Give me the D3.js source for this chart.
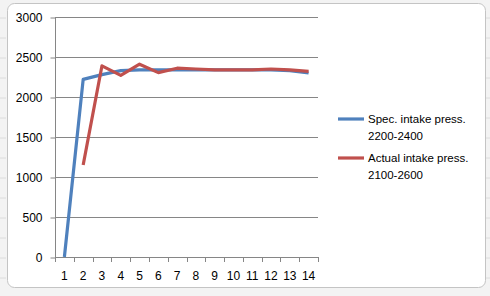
<!DOCTYPE html>
<html><head><meta charset="utf-8">
<script src="https://cdn.jsdelivr.net/npm/d3@7"></script>
<style>
html,body{margin:0;padding:0;background:#fff;}
svg{display:block;font-family:"Liberation Sans","DejaVu Sans",sans-serif;}
</style></head>
<body>
<svg id="c" width="490" height="296"></svg>
<script>
const categories = ["1","2","3","4","5","6","7","8","9","10","11","12","13","14"];
const specValues = [0,2220,2280,2330,2340,2340,2340,2340,2340,2340,2340,2340,2330,2300];
const actualValues = [null,1150,2390,2270,2410,2305,2360,2350,2340,2340,2340,2350,2340,2320];
const seriesNames = [["Spec. intake press.","2200-2400"],["Actual intake press.","2100-2600"]];
const seriesColors = ["#4F81BD","#C0504D"];
const yTicks = [0,500,1000,1500,2000,2500,3000];

const svg = d3.select("#c");
// spreadsheet background
svg.append("rect").attr("width",490).attr("height",296).attr("fill","#f3f3f3");
const bgLinesY = [18,38,58,78,98,118,138,158,178,198,218,238,258,278];
bgLinesY.forEach(y=>svg.append("line").attr("x1",0).attr("x2",6).attr("y1",y).attr("y2",y).attr("stroke","#dcdcdc"));
bgLinesY.forEach(y=>svg.append("line").attr("x1",486).attr("x2",490).attr("y1",y).attr("y2",y).attr("stroke","#dcdcdc"));
// chart frame
svg.append("rect").attr("x",7.5).attr("y",3.5).attr("width",478).attr("height",284)
  .attr("rx",7).attr("fill","#fff").attr("stroke","#c4c4c4");

const x = d3.scaleBand().domain(categories).range([55,318]);
const y = d3.scaleLinear().domain([0,3000]).range([257,17]);

// gridlines
svg.append("g").selectAll("line").data(yTicks.filter(d=>d>0)).join("line")
  .attr("x1",55).attr("x2",318).attr("y1",d=>Math.round(y(d))+0.5).attr("y2",d=>Math.round(y(d))+0.5)
  .attr("stroke","#868686").attr("stroke-width",1);

// y axis
const yAxis = svg.append("g").attr("transform","translate(55.5,0.5)")
  .call(d3.axisLeft(y).tickValues(yTicks).tickSize(5).tickPadding(8).tickFormat(d3.format("d")));
yAxis.select(".domain").attr("stroke","#868686").attr("d","M0,17V257");
yAxis.selectAll(".tick line").attr("stroke","#868686");
yAxis.selectAll("text").attr("font-size",12).attr("fill","#000").attr("font-family","Liberation Sans, sans-serif");

// x axis
const xAxis = svg.append("g").attr("transform","translate(0,257.5)")
  .call(d3.axisBottom(x).tickSize(0).tickPadding(14));
xAxis.select(".domain").attr("stroke","#868686").attr("d","M55,0H318");
xAxis.selectAll("text").attr("font-size",12).attr("fill","#000").attr("font-family","Liberation Sans, sans-serif");
// boundary ticks
const bounds = categories.map(c=>x(c)).concat([318]);
svg.append("g").selectAll("line").data(bounds).join("line")
  .attr("x1",d=>Math.round(d)+0.5).attr("x2",d=>Math.round(d)+0.5).attr("y1",257).attr("y2",262)
  .attr("stroke","#868686");

const cx = c => x(c)+x.bandwidth()/2;
const line = d3.line().defined(d=>d.v!==null).x(d=>cx(d.c)).y(d=>y(d.v));
[specValues, actualValues].forEach((vals,i)=>{
  svg.append("path").datum(categories.map((c,j)=>({c, v:vals[j]})))
    .attr("d",line).attr("fill","none").attr("stroke",seriesColors[i])
    .attr("stroke-width",3.2).attr("stroke-linejoin","round").attr("stroke-linecap","butt");
});

// legend
const legendY = [119,158];
seriesNames.forEach((nm,i)=>{
  const g = svg.append("g");
  g.append("line").attr("x1",338).attr("x2",364).attr("y1",legendY[i]).attr("y2",legendY[i])
    .attr("stroke",seriesColors[i]).attr("stroke-width",3.2);
  g.append("text").attr("x",368).attr("y",legendY[i]+4).attr("font-size",11.5).attr("fill","#000").text(nm[0]);
  g.append("text").attr("x",368).attr("y",legendY[i]+21).attr("font-size",11.5).attr("fill","#000").text(nm[1]);
});
</script>
</body></html>
